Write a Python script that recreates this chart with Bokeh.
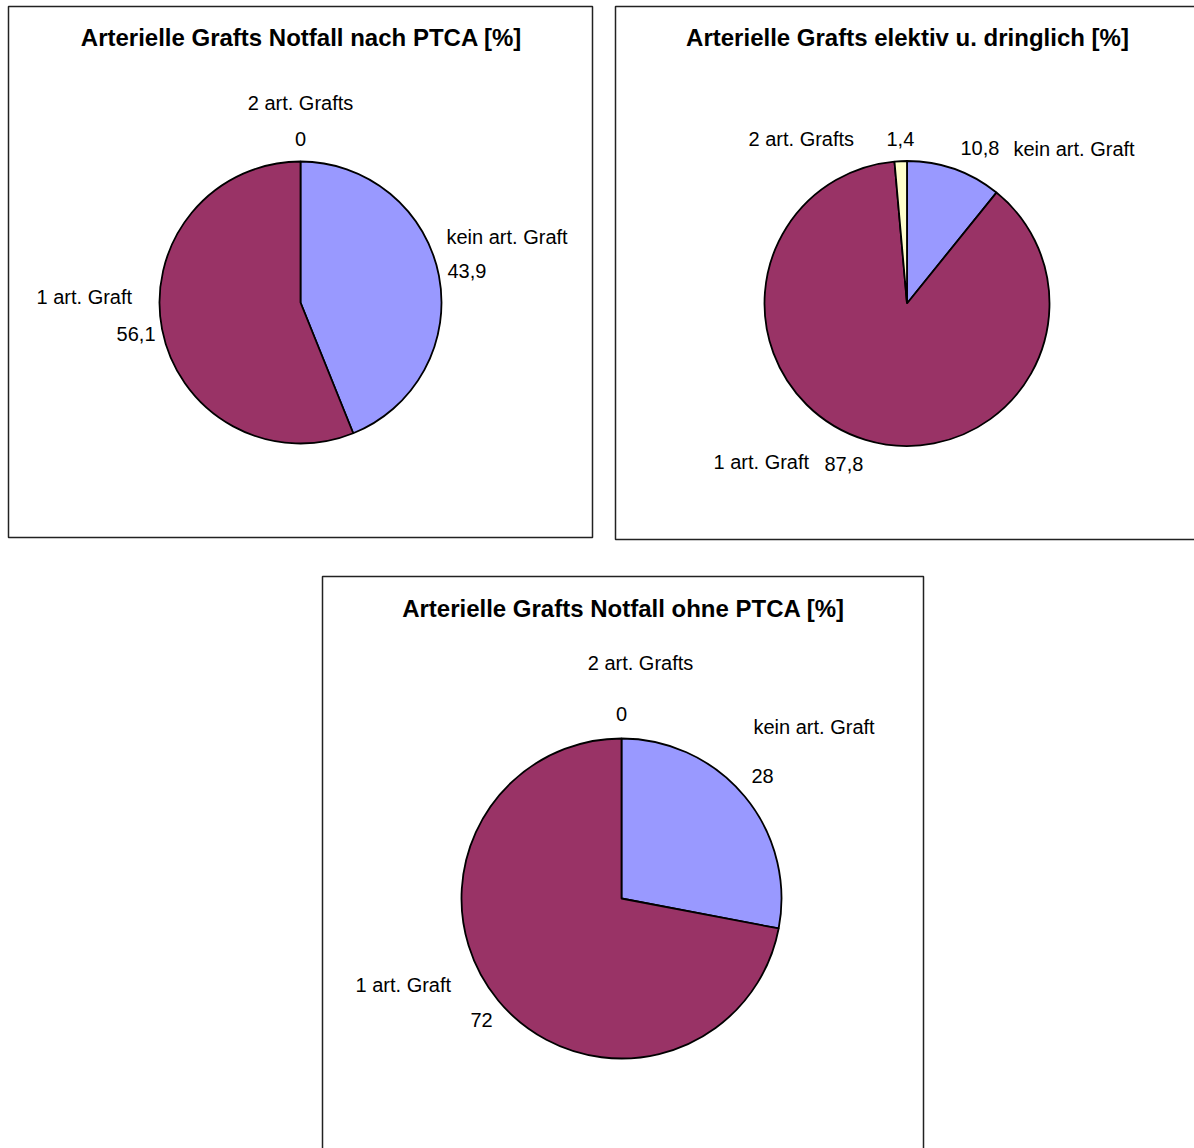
import math
from bokeh.plotting import figure
from bokeh.models import Range1d, ColumnDataSource
from bokeh.core.properties import value
from bokeh.embed import file_html
from bokeh.resources import INLINE

# ---- data ----
categories = ["kein art. Graft", "1 art. Graft", "2 art. Grafts"]
colors = ["#9999FF", "#993366", "#FFFFCC"]
titles = [
    "Arterielle Grafts Notfall nach PTCA [%]",
    "Arterielle Grafts elektiv u. dringlich [%]",
    "Arterielle Grafts Notfall ohne PTCA [%]",
]
values_notfall_nach = [43.9, 56.1, 0]
values_elektiv = [10.8, 87.8, 1.4]
values_notfall_ohne = [28, 72, 0]

W, H = 1194, 1148
FONT = "Liberation Sans"


def fy(y):
    return H - y


def fmt(v):
    if float(v).is_integer():
        return str(int(v))
    return ("%.1f" % v).replace(".", ",")


p = figure(width=W, height=H, output_backend="svg", toolbar_location=None,
           x_range=Range1d(0, W), y_range=Range1d(0, H), min_border=0)
p.axis.visible = False
p.grid.visible = False
p.outline_line_color = None
p.background_fill_color = "white"
p.border_fill_color = "white"

# panel frames (left, top, right, bottom)
frames = [(8, 6, 592, 537), (615, 6, 1230, 539), (322, 576, 923, 1180)]
for (l, t, r, b) in frames:
    p.quad(left=l, right=r, top=fy(t), bottom=fy(b), fill_color="white",
           line_color="#222222", line_width=1.5)

# pies: values, center x, center y, radius, title x
pies = [
    (values_notfall_nach, 300, 302, 141, 301),
    (values_elektiv, 906.5, 303, 142.5, 907),
    (values_notfall_ohne, 621, 898, 160, 623),
]
title_y = [37, 37, 608]

for i, (vals, cx, cy, r, tx) in enumerate(pies):
    total = sum(vals)
    starts, ends, cols = [], [], []
    cum = 0.0
    for v, c in zip(vals, colors):
        a0 = math.pi / 2 - 2 * math.pi * cum / total
        cum += v
        a1 = math.pi / 2 - 2 * math.pi * cum / total
        if v > 0:
            starts.append(a0)
            ends.append(a1)
            cols.append(c)
    src = ColumnDataSource(dict(x=[cx] * len(cols), y=[fy(cy)] * len(cols),
                                s=starts, e=ends, c=cols))
    p.wedge(x="x", y="y", radius=r, start_angle="s", end_angle="e",
            direction="clock", fill_color="c", line_color="black",
            line_width=1.8, source=src)
    p.text(x=[tx], y=[fy(title_y[i])], text=[titles[i]], text_font=value(FONT),
           text_font_size="24px", text_font_style="bold", text_align="center",
           text_baseline="middle", text_color="black")

# label layout: (pie index, category index, kind, x, y, align)
label_layout = [
    (0, 2, "name", 300, 102, "center"), (0, 2, "val", 300, 138, "center"),
    (0, 0, "name", 446, 236, "left"), (0, 0, "val", 447, 270, "left"),
    (0, 1, "name", 36, 296, "left"), (0, 1, "val", 155, 333, "right"),
    (1, 2, "name", 748, 138, "left"), (1, 2, "val", 886, 138, "left"),
    (1, 0, "val", 960, 147, "left"), (1, 0, "name", 1013, 148, "left"),
    (1, 1, "name", 713, 461, "left"), (1, 1, "val", 824, 463, "left"),
    (2, 2, "name", 640, 662, "center"), (2, 2, "val", 621, 713, "center"),
    (2, 0, "name", 753, 726, "left"), (2, 0, "val", 751, 775, "left"),
    (2, 1, "name", 355, 984, "left"), (2, 1, "val", 470, 1019, "left"),
]
for (pi_, ci, kind, x, y, al) in label_layout:
    vals = pies[pi_][0]
    txt = categories[ci] if kind == "name" else fmt(vals[ci])
    p.text(x=[x], y=[fy(y)], text=[txt], text_font=value(FONT),
           text_font_size="20px", text_align=al, text_baseline="middle",
           text_color="black")

open("out.html", "w").write(file_html(p, INLINE))
